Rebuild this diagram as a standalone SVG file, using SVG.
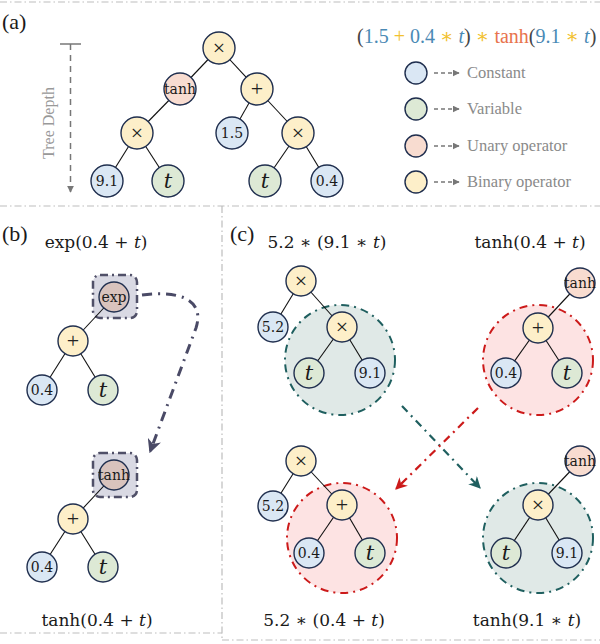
<svg xmlns="http://www.w3.org/2000/svg" width="600" height="644" viewBox="0 0 600 644">
<style>
text{font-family:"Liberation Serif","DejaVu Serif",serif;}
.div{stroke:#bdbdbd;stroke-width:1.2;stroke-dasharray:7 3 1.5 3;fill:none;}
.edge{stroke:#111;stroke-width:1.1;}
.n{stroke:#1f2e4e;stroke-width:1.4;}
.c{fill:#dae7f4;}
.v{fill:#dde9d5;}
.u{fill:#f8dcd0;}
.b{fill:#fdefc9;}
.ub{fill:#d9c3bd;}
.lbl{font-family:"DejaVu Serif",serif;font-size:14px;fill:#1a1a1a;text-anchor:middle;}
.op{font-family:"Liberation Serif",serif;font-size:22px;fill:#222;text-anchor:middle;}
.var{font-family:"DejaVu Serif",serif;font-size:21px;font-style:italic;fill:#1a1a1a;text-anchor:middle;}
.expr{font-family:"DejaVu Serif",serif;font-size:17px;fill:#1a1a1a;text-anchor:middle;}
.leg{font-size:16.5px;fill:#8a8a8a;}
.tag{font-size:22px;fill:#1a1a1a;}
</style>
<defs>
<marker id="ah-gray" viewBox="0 0 10 10" refX="9" refY="5" markerWidth="7" markerHeight="7" markerUnits="userSpaceOnUse" orient="auto"><path d="M0,0 L10,5 L0,10 z" fill="#777"/></marker>
<marker id="ah-dark" viewBox="0 0 10 10" refX="9" refY="5" markerWidth="14" markerHeight="14" markerUnits="userSpaceOnUse" orient="auto"><path d="M0,0 L10,5 L0,10 L3,5 z" fill="#4a4a66"/></marker>
<marker id="ah-green" viewBox="0 0 10 10" refX="9" refY="5" markerWidth="12" markerHeight="12" markerUnits="userSpaceOnUse" orient="auto"><path d="M0,0 L10,5 L0,10 L3,5 z" fill="#1f5f5f"/></marker>
<marker id="ah-red" viewBox="0 0 10 10" refX="9" refY="5" markerWidth="12" markerHeight="12" markerUnits="userSpaceOnUse" orient="auto"><path d="M0,0 L10,5 L0,10 L3,5 z" fill="#cc1a1a"/></marker>
</defs>

<!-- dividers -->
<g id="dividers">
<line class="div" x1="0" y1="2" x2="600" y2="2"/>
<line class="div" x1="0" y1="206" x2="600" y2="206"/>
<line class="div" x1="222" y1="206" x2="222" y2="640"/>
<line class="div" x1="0" y1="633" x2="222" y2="633"/>
<line class="div" x1="222" y1="640" x2="600" y2="640"/>
</g>

<!-- panel labels -->
<text class="tag" x="2" y="29">(a)</text>
<text class="tag" x="2" y="241">(b)</text>
<text class="tag" x="230" y="241">(c)</text>

<!-- tree depth -->
<g id="tree-depth">
<line x1="60" y1="44" x2="81" y2="44" stroke="#777" stroke-width="1.5"/>
<line x1="70.5" y1="44" x2="70.5" y2="192" stroke="#777" stroke-width="1.5" stroke-dasharray="6 5" marker-end="url(#ah-gray)"/>
<text x="0" y="0" transform="translate(54,123) rotate(-90)" text-anchor="middle" font-size="16" fill="#999">Tree Depth</text>
</g>

<!-- formula -->
<text x="357" y="43" font-size="20" fill="#444" xml:space="preserve">(<tspan fill="#4a8ab5">1.5</tspan> <tspan fill="#f2c12e">+</tspan> <tspan fill="#4a8ab5">0.4</tspan> <tspan fill="#f2c12e">∗</tspan> <tspan fill="#4a8ab5" font-style="italic">t</tspan>) <tspan fill="#f2c12e">∗</tspan> <tspan fill="#e8734d">tanh</tspan>(<tspan fill="#4a8ab5">9.1</tspan> <tspan fill="#f2c12e">∗</tspan> <tspan fill="#4a8ab5" font-style="italic">t</tspan>)</text>

<!-- legend -->
<g id="legend">
<circle class="n c" cx="416" cy="73" r="11"/>
<line x1="434" y1="73" x2="459" y2="73" stroke="#777" stroke-width="1.5" stroke-dasharray="4 3" marker-end="url(#ah-gray)"/>
<text class="leg" x="467" y="78">Constant</text>
<circle class="n v" cx="416" cy="109" r="11"/>
<line x1="434" y1="109" x2="459" y2="109" stroke="#777" stroke-width="1.5" stroke-dasharray="4 3" marker-end="url(#ah-gray)"/>
<text class="leg" x="467" y="114">Variable</text>
<circle class="n u" cx="416" cy="146" r="11"/>
<line x1="434" y1="146" x2="459" y2="146" stroke="#777" stroke-width="1.5" stroke-dasharray="4 3" marker-end="url(#ah-gray)"/>
<text class="leg" x="467" y="151">Unary operator</text>
<circle class="n b" cx="416" cy="182" r="11"/>
<line x1="434" y1="182" x2="459" y2="182" stroke="#777" stroke-width="1.5" stroke-dasharray="4 3" marker-end="url(#ah-gray)"/>
<text class="leg" x="467" y="187">Binary operator</text>
</g>

<!-- highlight regions -->
<g id="regions">
<rect x="93" y="275" width="44" height="43" rx="7" fill="#d9d9e3" stroke="#505068" stroke-width="2.5" stroke-dasharray="8 4 2 4"/>
<rect x="93" y="453" width="44" height="44" rx="7" fill="#d9d9e3" stroke="#505068" stroke-width="2.5" stroke-dasharray="8 4 2 4"/>
<circle cx="340" cy="360" r="55" fill="#e0e9e7" stroke="#1f5f5f" stroke-width="2" stroke-dasharray="8 5 2 5"/>
<circle cx="538" cy="360" r="55" fill="#fde3e3" stroke="#cc1a1a" stroke-width="2" stroke-dasharray="8 5 2 5"/>
<circle cx="342" cy="538" r="55" fill="#fde3e3" stroke="#cc1a1a" stroke-width="2" stroke-dasharray="8 5 2 5"/>
<circle cx="538" cy="538" r="55" fill="#e0e9e7" stroke="#1f5f5f" stroke-width="2" stroke-dasharray="8 5 2 5"/>
</g>

<!-- connectors -->
<g id="connectors">
<line class="edge" x1="219" y1="48" x2="180" y2="89"/>
<line class="edge" x1="219" y1="48" x2="257" y2="89"/>
<line class="edge" x1="180" y1="89" x2="137" y2="133"/>
<line class="edge" x1="257" y1="89" x2="232" y2="133"/>
<line class="edge" x1="257" y1="89" x2="298" y2="133"/>
<line class="edge" x1="137" y1="133" x2="107" y2="181"/>
<line class="edge" x1="137" y1="133" x2="168" y2="181"/>
<line class="edge" x1="298" y1="133" x2="265" y2="181"/>
<line class="edge" x1="298" y1="133" x2="327" y2="181"/>

<line class="edge" x1="114" y1="297" x2="73" y2="341"/>
<line class="edge" x1="73" y1="341" x2="42" y2="390"/>
<line class="edge" x1="73" y1="341" x2="103" y2="390"/>
<line class="edge" x1="114" y1="475" x2="73" y2="519"/>
<line class="edge" x1="73" y1="519" x2="42" y2="567"/>
<line class="edge" x1="73" y1="519" x2="103" y2="567"/>

<line class="edge" x1="301" y1="281" x2="273" y2="327"/>
<line class="edge" x1="301" y1="281" x2="342" y2="327"/>
<line class="edge" x1="342" y1="327" x2="309" y2="373"/>
<line class="edge" x1="342" y1="327" x2="370" y2="373"/>
<line class="edge" x1="580" y1="283" x2="538" y2="328"/>
<line class="edge" x1="538" y1="328" x2="506" y2="373"/>
<line class="edge" x1="538" y1="328" x2="567" y2="373"/>

<line class="edge" x1="301" y1="461" x2="273" y2="506"/>
<line class="edge" x1="301" y1="461" x2="342" y2="505"/>
<line class="edge" x1="342" y1="505" x2="309" y2="553"/>
<line class="edge" x1="342" y1="505" x2="370" y2="553"/>
<line class="edge" x1="580" y1="461" x2="538" y2="505"/>
<line class="edge" x1="538" y1="505" x2="506" y2="553"/>
<line class="edge" x1="538" y1="505" x2="567" y2="553"/>

<path d="M142,295 C180,290 205,300 196,328 L150,452" fill="none" stroke="#4a4a66" stroke-width="3" stroke-dasharray="10 6 2 6" marker-end="url(#ah-dark)"/>
<line x1="402" y1="406" x2="480" y2="488" stroke="#1f5f5f" stroke-width="2.2" stroke-dasharray="8 5 2 5" marker-end="url(#ah-green)"/>
<line x1="478" y1="408" x2="396" y2="489" stroke="#cc1a1a" stroke-width="2.2" stroke-dasharray="8 5 2 5" marker-end="url(#ah-red)"/>
</g>

<!-- panel (a) nodes -->
<g id="a-root"><circle class="n b" cx="219" cy="48" r="16"/><text class="op" x="219" y="55">×</text></g>
<g id="a-tanh"><circle class="n u" cx="180" cy="89" r="16"/><text class="lbl" x="180" y="94">tanh</text></g>
<g id="a-plus"><circle class="n b" cx="257" cy="89" r="16"/><text class="op" x="257" y="96">+</text></g>
<g id="a-mul1"><circle class="n b" cx="137" cy="133" r="16"/><text class="op" x="137" y="140">×</text></g>
<g id="a-c15"><circle class="n c" cx="232" cy="133" r="16"/><text class="lbl" x="232" y="138">1.5</text></g>
<g id="a-mul2"><circle class="n b" cx="298" cy="133" r="16"/><text class="op" x="298" y="140">×</text></g>
<g id="a-c91"><circle class="n c" cx="107" cy="181" r="16"/><text class="lbl" x="107" y="186">9.1</text></g>
<g id="a-t1"><circle class="n v" cx="168" cy="181" r="16"/><text class="var" x="168" y="188">t</text></g>
<g id="a-t2"><circle class="n v" cx="265" cy="181" r="16"/><text class="var" x="265" y="188">t</text></g>
<g id="a-c04"><circle class="n c" cx="327" cy="181" r="16"/><text class="lbl" x="327" y="186">0.4</text></g>

<!-- panel (b) -->
<text class="expr" x="96" y="248">exp(0.4 + <tspan font-style="italic">t</tspan>)</text>
<g id="b1-exp"><circle class="n ub" cx="114" cy="297" r="15"/><text class="lbl" x="114" y="302">exp</text></g>
<g id="b1-plus"><circle class="n b" cx="73" cy="341" r="15"/><text class="op" x="73" y="348">+</text></g>
<g id="b1-c04"><circle class="n c" cx="42" cy="390" r="15"/><text class="lbl" x="42" y="395">0.4</text></g>
<g id="b1-t"><circle class="n v" cx="103" cy="390" r="15"/><text class="var" x="103" y="397">t</text></g>

<g id="b2-tanh"><circle class="n ub" cx="114" cy="475" r="15"/><text class="lbl" x="114" y="480">tanh</text></g>
<g id="b2-plus"><circle class="n b" cx="73" cy="519" r="15"/><text class="op" x="73" y="526">+</text></g>
<g id="b2-c04"><circle class="n c" cx="42" cy="567" r="15"/><text class="lbl" x="42" y="572">0.4</text></g>
<g id="b2-t"><circle class="n v" cx="103" cy="567" r="15"/><text class="var" x="103" y="574">t</text></g>
<text class="expr" x="97" y="626">tanh(0.4 + <tspan font-style="italic">t</tspan>)</text>

<!-- panel (c) -->
<text class="expr" x="327" y="248">5.2 ∗ (9.1 ∗ <tspan font-style="italic">t</tspan>)</text>
<text class="expr" x="530" y="248">tanh(0.4 + <tspan font-style="italic">t</tspan>)</text>

<g id="c1-mul"><circle class="n b" cx="301" cy="281" r="15"/><text class="op" x="301" y="288">×</text></g>
<g id="c1-c52"><circle class="n c" cx="273" cy="327" r="15"/><text class="lbl" x="273" y="332">5.2</text></g>
<g id="c1-mul2"><circle class="n b" cx="342" cy="327" r="15"/><text class="op" x="342" y="334">×</text></g>
<g id="c1-t"><circle class="n v" cx="309" cy="373" r="15"/><text class="var" x="309" y="380">t</text></g>
<g id="c1-c91"><circle class="n c" cx="370" cy="373" r="15"/><text class="lbl" x="370" y="378">9.1</text></g>

<g id="c2-tanh"><circle class="n u" cx="580" cy="283" r="15"/><text class="lbl" x="580" y="288">tanh</text></g>
<g id="c2-plus"><circle class="n b" cx="538" cy="328" r="15"/><text class="op" x="538" y="335">+</text></g>
<g id="c2-c04"><circle class="n c" cx="506" cy="373" r="15"/><text class="lbl" x="506" y="378">0.4</text></g>
<g id="c2-t"><circle class="n v" cx="567" cy="373" r="15"/><text class="var" x="567" y="380">t</text></g>

<g id="c3-mul"><circle class="n b" cx="301" cy="461" r="15"/><text class="op" x="301" y="468">×</text></g>
<g id="c3-c52"><circle class="n c" cx="273" cy="506" r="15"/><text class="lbl" x="273" y="511">5.2</text></g>
<g id="c3-plus"><circle class="n b" cx="342" cy="505" r="15"/><text class="op" x="342" y="512">+</text></g>
<g id="c3-c04"><circle class="n c" cx="309" cy="553" r="15"/><text class="lbl" x="309" y="558">0.4</text></g>
<g id="c3-t"><circle class="n v" cx="370" cy="553" r="15"/><text class="var" x="370" y="560">t</text></g>

<g id="c4-tanh"><circle class="n u" cx="580" cy="461" r="15"/><text class="lbl" x="580" y="466">tanh</text></g>
<g id="c4-mul"><circle class="n b" cx="538" cy="505" r="15"/><text class="op" x="538" y="512">×</text></g>
<g id="c4-t"><circle class="n v" cx="506" cy="553" r="15"/><text class="var" x="506" y="560">t</text></g>
<g id="c4-c91"><circle class="n c" cx="567" cy="553" r="15"/><text class="lbl" x="567" y="558">9.1</text></g>

<text class="expr" x="324" y="626">5.2 ∗ (0.4 + <tspan font-style="italic">t</tspan>)</text>
<text class="expr" x="527" y="626">tanh(9.1 ∗ <tspan font-style="italic">t</tspan>)</text>
</svg>
